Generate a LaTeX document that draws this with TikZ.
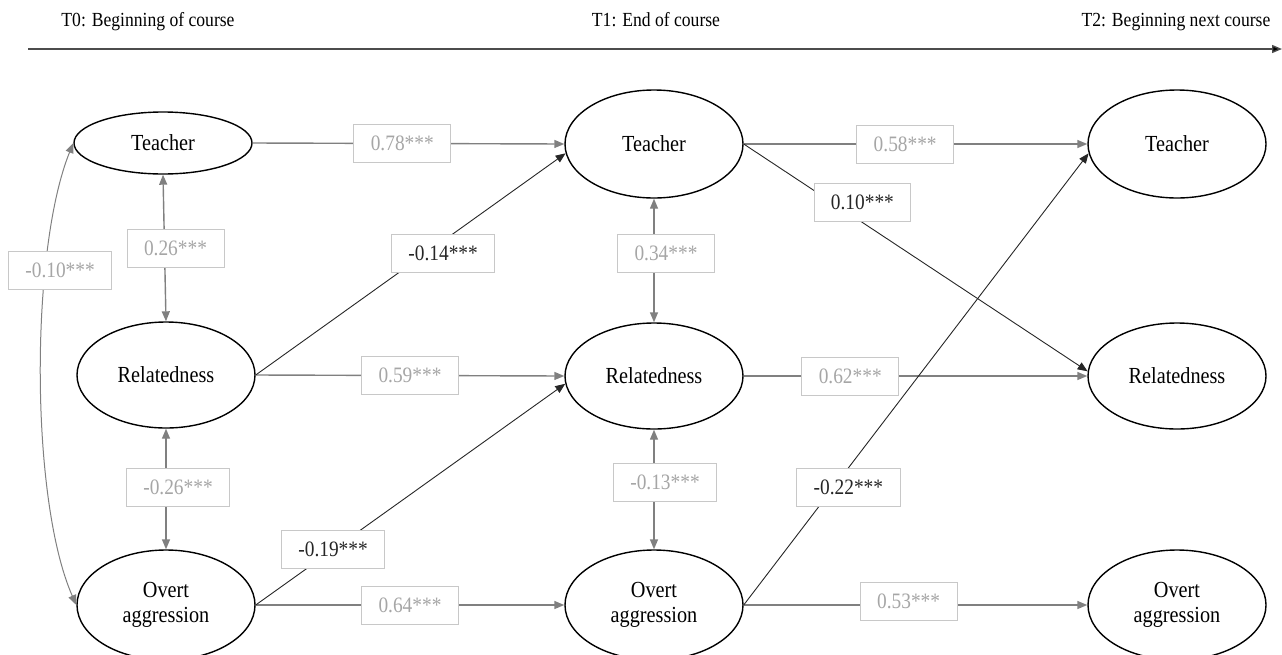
\documentclass[tikz,border=0pt]{standalone}
\usepackage{fontspec}
\setmainfont{Liberation Serif}[FakeStretch=0.88]
\usepackage{xcolor}
\usepackage{tikz}
\usetikzlibrary{shapes,arrows.meta,positioning}

\definecolor{pathgray}{HTML}{808080}
\definecolor{labelgray}{HTML}{A6A6A6}
\definecolor{boxgray}{HTML}{C8C8C8}

\tikzset{
    latent/.style={draw, ellipse, line width=1.4pt, fill=white, minimum width=178pt,
        minimum height=106pt, inner sep=0pt, align=center, font=\fontsize{23}{25}\selectfont},
    coef/.style={draw=boxgray, line width=0.8pt, fill=white, inner xsep=17pt, inner ysep=0pt,
        minimum height=38pt, font=\fontsize{22}{24}\selectfont},
    coefgray/.style={coef, text=labelgray},
    timelbl/.style={font=\fontsize{20}{22}\selectfont},
    stab/.style={pathgray, line width=1.4pt, -{Triangle[length=10pt,width=8pt]}},
    crosslag/.style={black!85, line width=0.9pt, -{Triangle[length=10pt,width=8pt]}},
    corr/.style={pathgray, line width=1.4pt, {Triangle[length=10pt,width=8pt]}-{Triangle[length=10pt,width=8pt]}},
}

\begin{document}
\begin{tikzpicture}[x=1pt, y=-1pt]
    \useasboundingbox (0,0) rectangle (1282,654);

    % time axis
    \coordinate (axisL) at (28,49);
    \coordinate (axisR) at (1282,49);
    \draw[line width=1.4pt, black!70, -{Triangle[length=10pt,width=8pt,fill=black]}] (axisL) -- (axisR);
    \node[timelbl] (timeA) at (148,22) {T0: Beginning of course};
    \node[timelbl] (timeB) at (656,20) {T1: End of course};
    \node[timelbl] (timeC) at (1176,22) {T2: Beginning next course};

    % T0
    \node[latent, minimum height=62pt] (teachA) at (163,143) {Teacher};
    \node[latent] (relA) at (166,375) {Relatedness};
    \node[latent, minimum height=110pt] (aggrA) at (166,605) {Overt\\aggression};
    % T1
    \node[latent, minimum height=108pt] (teachB) at (654,144) {Teacher};
    \node[latent] (relB) at (654,376) {Relatedness};
    \node[latent, minimum height=110pt] (aggrB) at (654,605) {Overt\\aggression};
    % T2
    \node[latent, minimum height=108pt] (teachC) at (1177,144) {Teacher};
    \node[latent] (relC) at (1177,376) {Relatedness};
    \node[latent, minimum height=110pt] (aggrC) at (1177,605) {Overt\\aggression};

    % stability paths
    \draw[stab] (teachA.east) -- node[coefgray, pos=0.48] {0.78***} (teachB.west);
    \draw[stab] (relA.east) -- node[coefgray, pos=0.5] {0.59***} (relB.west);
    \draw[stab] (aggrA.east) -- node[coefgray, pos=0.5] {0.64***} (aggrB.west);
    \draw[stab] (teachB.east) -- node[coefgray, pos=0.47] {0.58***} (teachC.west);
    \draw[stab] (relB.east) -- node[coefgray, pos=0.31] {0.62***} (relC.west);
    \draw[stab] (aggrB.east) -- node[coefgray, pos=0.48, yshift=4pt] {0.53***} (aggrC.west);

    % cross-lagged paths
    \draw[crosslag] (relA.east) -- node[coef, pos=0.55, xshift=17pt] {-0.14***} (teachB.186);
    \draw[crosslag] (aggrA.east) -- node[coef, pos=0.25] {-0.19***} (relB.185);
    \draw[crosslag] (teachB.east) -- node[coef, pos=0.255, xshift=31pt] {0.10***} (relC.177);
    \draw[crosslag] (aggrB.east) -- node[coef, pos=0.26, xshift=15pt] {-0.22***} (teachC.186);

    % correlations
    \draw[corr] (teachA.south) -- node[coefgray, pos=0.5, xshift=11pt] {0.26***} (relA.north);
    \draw[corr] (relA.south) -- node[coefgray, pos=0.49, xshift=12pt] {-0.26***} (aggrA.north);
    \draw[corr] (teachB.south) -- node[coefgray, pos=0.44, xshift=12pt] {0.34***} (relB.north);
    \draw[corr] (relB.south) -- node[coefgray, pos=0.44, xshift=11pt] {-0.13***} (aggrB.north);
    \draw[corr, line width=1pt] (teachA.west) .. controls (30,250) and (30,500) ..
        node[coefgray, pos=0.3, xshift=14pt] {-0.10***} (aggrA.west);
\end{tikzpicture}
\end{document}
